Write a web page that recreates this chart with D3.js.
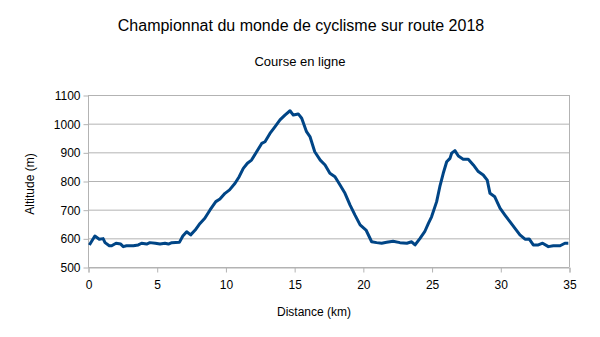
<!DOCTYPE html>
<html><head><meta charset="utf-8">
<script src="https://cdn.jsdelivr.net/npm/d3@7"></script>
<style>body{margin:0;background:#fff}svg{display:block;font-family:"Liberation Sans",Arial,sans-serif}</style>
</head><body><svg id="c" width="600" height="337"></svg>
<script>
const distance = [0.1,0.5,0.82,1.1,1.24,1.55,1.72,2.04,2.38,2.57,2.8,3.3,3.66,3.9,4.27,4.5,4.9,5.24,5.6,5.85,6.1,6.65,6.9,7.18,7.47,7.8,8.15,8.5,8.88,9.3,9.6,9.97,10.3,10.7,11.0,11.3,11.6,11.9,12.27,12.64,12.88,13.24,13.6,13.97,14.33,14.7,14.94,15.3,15.55,15.9,16.15,16.5,16.9,17.25,17.6,17.97,18.34,18.7,19.07,19.43,19.8,20.23,20.64,21.0,21.37,21.73,22.2,22.7,23.2,23.55,23.8,24.16,24.5,24.77,25.0,25.37,25.6,25.85,26.1,26.34,26.46,26.7,26.95,27.3,27.67,28.04,28.4,28.76,29.05,29.25,29.6,29.98,30.34,30.7,31.07,31.43,31.8,32.1,32.4,32.77,33.08,33.5,33.86,34.35,34.7,34.95];
const altitude = [577,608,597,599,585,574,574,583,580,571,574,574,577,583,580,585,583,580,583,580,585,586,608,623,612,629,652,670,699,728,737,757,769,792,815,844,862,873,902,931,937,966,989,1013,1030,1045,1030,1034,1019,972,955,902,873,856,827,815,786,757,716,681,647,629,588,585,583,586,590,585,583,588,577,600,623,652,675,728,780,827,867,879,897,906,887,876,876,856,833,821,803,757,745,705,681,658,635,612,597,598,577,577,583,571,574,574,583,583];
const yTicks = [500,600,700,800,900,1000,1100];
const xTicks = [0,5,10,15,20,25,30,35];

const svg = d3.select("#c");
const m = {l:88, r:569, t:95, b:267};
const x = d3.scaleLinear().domain([0,35]).range([m.l, m.r]);
const y = d3.scaleLinear().domain([500,1100]).range([m.b, m.t]);
const grid = "#b3b3b3";

svg.append("text").attr("x",301).attr("y",31).attr("text-anchor","middle")
  .attr("font-size",16).attr("fill","#000").text("Championnat du monde de cyclisme sur route 2018");
svg.append("text").attr("x",300).attr("y",66).attr("text-anchor","middle")
  .attr("font-size",13).attr("fill","#000").text("Course en ligne");

svg.append("g").selectAll("line").data(yTicks).join("line")
  .attr("x1",m.l).attr("x2",m.r).attr("y1",d=>y(d)+0.5).attr("y2",d=>y(d)+0.5)
  .attr("stroke",grid).attr("stroke-width",1);
svg.append("line").attr("x1",m.r+0.5).attr("x2",m.r+0.5).attr("y1",m.t).attr("y2",m.b)
  .attr("stroke",grid);

const ya = d3.axisLeft(y).tickValues(yTicks).tickFormat(d3.format("d")).tickSize(5).tickPadding(3);
const gy = svg.append("g").attr("transform",`translate(${m.l+0.5},0.5)`).call(ya);
const xa = d3.axisBottom(x).tickValues(xTicks).tickFormat(d3.format("d")).tickSize(5).tickPadding(8);
const gx = svg.append("g").attr("transform",`translate(0.5,${m.b+0.5})`).call(xa);
[gx,gy].forEach(g=>{
  g.selectAll("path,line").attr("stroke",grid);
  g.selectAll("text").attr("font-size",12).attr("fill","#000").attr("font-family","Liberation Sans, Arial, sans-serif");
});
gy.select(".domain").attr("d",`M-0,${m.t}V${m.b}`);

svg.append("text").attr("transform","translate(34,184) rotate(-90)").attr("text-anchor","middle")
  .attr("font-size",12).attr("fill","#000").text("Altitude (m)");
svg.append("text").attr("x",314).attr("y",316).attr("text-anchor","middle")
  .attr("font-size",12).attr("fill","#000").text("Distance (km)");

const pts = distance.map((d,i)=>[d,altitude[i]]);
svg.append("path").datum(pts)
  .attr("d", d3.line().x(d=>x(d[0])).y(d=>y(d[1])))
  .attr("fill","none").attr("stroke","#004586").attr("stroke-width",3).attr("stroke-linejoin","round");
</script></body></html>
